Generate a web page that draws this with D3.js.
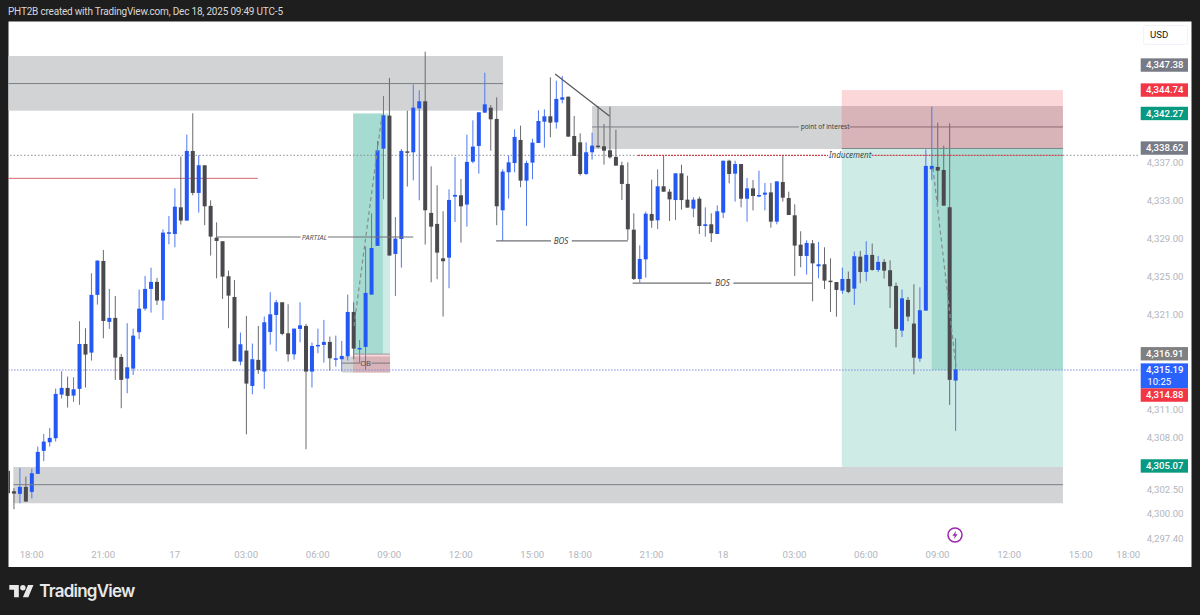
<!DOCTYPE html>
<html>
<head>
<meta charset="utf-8">
<script src="https://d3js.org/d3.v7.min.js"></script>
<style>
  html, body { margin: 0; padding: 0; background: #1e1e1e; }
  svg { display: block; font-family: Roboto, Arial, sans-serif; }
</style>
</head>
<body>
<svg id="chart" width="1200" height="615"></svg>
<script>
// 15 minute candles
var opens = [
  4304.48,4302.33,4302.05,4302.79,4302.26,4304.16,4306.59,4307.50,4307.92,4312.53,
  4313.23,4312.42,4313.13,4317.87,4316.96,4323.05,4326.63,4320.20,4320.62,4316.50,
  4314.22,4315.27,4319.11,4321.60,4323.68,4324.42,4322.45,4329.55,4329.48,4332.29,
  4330.89,4338.24,4333.81,4336.73,4332.44,4329.09,4328.71,4325.02,4322.83,4316.01,
  4317.17,4313.44,4316.19,4314.96,4319.14,4320.93,4322.27,4319.00,4316.78,4319.46,
  4319.77,4314.96,4317.63,4317.77,4318.09,4316.26,4316.26,4316.57,4321.25,4317.35,
  4317.56,4323.08,4328.22,4338.48,4341.97,4327.37,4328.95,4338.20,4338.10,4342.74,
  4343.48,4331.70,4330.54,4326.91,4326.98,4333.42,4333.56,4332.58,4337.11,4338.77,
  4342.28,4342.81,4341.62,4331.98,4335.99,4336.97,4339.40,4335.11,4337.01,4339.08,
  4341.33,4341.90,4341.26,4343.65,4343.97,4339.82,4339.15,4335.81,4338.10,4338.80,
  4338.73,4338.31,4337.61,4336.73,4334.76,4329.93,4324.73,4326.80,4331.59,4330.92,
  4334.51,4333.94,4333.06,4335.88,4333.10,4332.15,4333.20,4330.32,4330.50,4329.48,
  4331.73,4337.21,4335.84,4336.86,4333.20,4334.29,4333.49,4333.63,4333.87,4330.78,
  4334.96,4333.27,4331.45,4328.35,4327.16,4328.49,4326.07,4326.28,4324.55,4324.41,
  4323.50,4324.73,4323.71,4327.09,4325.47,4327.27,4325.68,4326.53,4325.65,4324.00,
  4319.28,4322.52,4320.02,4316.33,4321.39,4336.30,4336.55,4336.23,4332.30,4314.01
];
var highs = [
  4304.48,4302.65,4304.79,4303.88,4304.72,4307.04,4308.38,4309.01,4313.16,4314.99,
  4314.43,4314.36,4320.27,4319.53,4325.33,4326.67,4327.79,4323.68,4322.94,4316.82,
  4320.06,4319.49,4323.61,4325.05,4325.93,4324.84,4329.97,4331.38,4334.30,4337.64,
  4339.96,4342.21,4337.78,4336.73,4333.03,4330.71,4328.71,4325.61,4324.63,4319.07,
  4320.83,4317.91,4319.77,4320.76,4323.33,4322.52,4322.27,4322.06,4319.49,4322.27,
  4319.99,4318.02,4319.49,4320.41,4318.65,4318.75,4318.19,4323.08,4322.27,4318.30,
  4328.14,4331.66,4339.29,4344.04,4345.94,4331.27,4338.45,4342.49,4345.27,4344.64,
  4348.72,4336.62,4334.62,4331.87,4334.19,4337.61,4335.28,4339.96,4341.47,4342.32,
  4346.50,4343.09,4343.90,4336.30,4337.75,4340.52,4340.91,4337.22,4339.54,4342.53,
  4342.63,4346.01,4345.66,4346.15,4343.97,4341.93,4340.10,4339.15,4340.17,4342.99,
  4341.09,4342.92,4340.49,4337.11,4337.04,4331.66,4328.28,4331.83,4335.21,4336.30,
  4337.74,4334.22,4335.88,4336.79,4335.63,4333.35,4333.42,4332.29,4331.66,4332.50,
  4337.21,4337.32,4337.21,4336.86,4335.39,4335.17,4336.16,4334.86,4334.86,4335.03,
  4337.74,4333.94,4332.61,4329.76,4328.81,4328.84,4328.63,4328.07,4326.91,4324.41,
  4325.93,4325.51,4327.62,4327.69,4328.71,4328.46,4327.16,4326.84,4326.70,4324.35,
  4323.61,4322.83,4324.17,4323.85,4338.41,4342.92,4341.23,4338.80,4341.16,4318.47
];
var lows = [
  4302.12,4300.43,4301.06,4301.24,4301.56,4304.16,4305.50,4307.04,4307.57,4312.11,
  4311.16,4311.76,4311.44,4313.27,4316.12,4322.03,4318.47,4319.46,4314.08,4311.09,
  4312.67,4314.60,4318.37,4321.39,4321.18,4321.99,4320.41,4328.39,4328.07,4330.47,
  4330.89,4333.56,4331.73,4330.40,4327.20,4324.80,4322.62,4319.53,4316.05,4315.62,
  4308.34,4312.56,4314.71,4313.13,4317.80,4317.10,4318.79,4316.01,4316.22,4318.05,
  4306.76,4313.27,4316.89,4315.91,4315.06,4315.48,4314.96,4316.12,4316.26,4315.84,
  4315.13,4323.08,4328.22,4333.14,4327.20,4322.94,4325.93,4334.48,4335.14,4333.03,
  4328.36,4324.38,4324.70,4320.76,4323.75,4330.75,4328.57,4330.25,4336.94,4335.85,
  4342.28,4338.27,4330.40,4328.74,4333.21,4335.99,4334.41,4330.33,4335.25,4339.08,
  4338.59,4339.68,4340.59,4343.27,4339.75,4337.71,4335.64,4335.71,4337.32,4338.52,
  4336.80,4337.43,4336.69,4333.07,4328.85,4324.62,4324.34,4324.87,4330.14,4330.00,
  4333.94,4330.85,4330.95,4332.04,4332.26,4331.24,4329.48,4329.20,4328.63,4329.48,
  4331.16,4334.82,4332.89,4332.29,4330.78,4331.97,4333.35,4331.97,4330.14,4330.50,
  4332.89,4331.48,4325.05,4325.96,4325.19,4322.37,4324.80,4323.67,4321.25,4320.75,
  4323.15,4323.22,4321.99,4324.28,4324.49,4325.61,4325.47,4324.77,4321.67,4317.52,
  4318.61,4320.27,4314.67,4315.98,4321.39,4335.18,4332.79,4332.47,4311.44,4308.70
];
var closes = [
  4302.12,4302.08,4302.79,4301.24,4304.23,4306.48,4307.57,4307.96,4312.60,4313.23,
  4312.39,4313.09,4317.87,4316.75,4323.05,4326.67,4320.30,4320.62,4316.43,4314.08,
  4315.41,4318.75,4321.60,4323.68,4324.42,4322.45,4329.62,4329.66,4332.36,4330.89,
  4338.24,4333.81,4336.73,4332.40,4329.20,4328.74,4324.98,4322.97,4316.05,4317.84,
  4313.69,4316.26,4315.13,4320.16,4321.00,4322.27,4318.93,4316.78,4319.49,4319.84,
  4314.96,4317.66,4317.77,4318.09,4316.36,4316.36,4316.61,4321.25,4317.38,4317.45,
  4323.26,4328.00,4338.31,4342.00,4327.20,4328.99,4338.24,4338.10,4342.81,4343.48,
  4331.98,4330.25,4327.51,4326.60,4333.07,4333.60,4332.40,4337.08,4338.70,4342.32,
  4343.16,4341.58,4332.40,4336.06,4337.04,4339.72,4335.11,4336.97,4339.12,4341.40,
  4341.90,4341.23,4343.73,4343.90,4339.75,4337.71,4335.81,4338.10,4338.80,4338.73,
  4338.27,4337.57,4336.69,4334.76,4329.97,4324.73,4326.84,4331.62,4330.88,4334.51,
  4333.94,4333.13,4335.88,4333.06,4332.26,4333.10,4330.32,4330.50,4329.55,4331.87,
  4337.21,4335.81,4336.86,4333.20,4334.29,4333.49,4333.59,4333.84,4330.78,4335.03,
  4333.31,4331.48,4328.25,4327.16,4328.53,4326.38,4326.28,4324.55,4324.41,4323.57,
  4324.73,4323.36,4327.13,4325.47,4327.27,4325.68,4326.53,4325.61,4323.96,4319.46,
  4322.69,4320.76,4316.43,4321.43,4336.66,4336.66,4336.16,4332.47,4314.08,4315.19
];

var priceTicks = [4337, 4333, 4329, 4325, 4321, 4311, 4308, 4302.5, 4300, 4297.4];
var timeTickBars = [4, 16, 28, 40, 52, 64, 76, 88, 96, 108, 120, 132, 144, 156, 168, 180, 188];
var timeTickLabels = ["18:00", "21:00", "17", "03:00", "06:00", "09:00", "12:00", "15:00", "18:00",
  "21:00", "18", "03:00", "06:00", "09:00", "12:00", "15:00", "18:00"];

var axisLabelPrices = [4347.38, 4344.74, 4342.27, 4338.62, 4316.91, 4315.19, 4314.88, 4305.07];
var axisLabelColors = ["#787b86", "#f23645", "#089981", "#787b86", "#808080", "#2962ff", "#f23645", "#089981"];

// drawings, as [first bar, last bar, upper price, lower price]
var grayZones = [
  [-2, 83.05, 4348.26, 4342.49],
  [98, 177, 4342.98, 4338.45],
  [0.9, 177, 4304.89, 4301.06],
  [56.1, 64.1, 4316.55, 4314.85]
];
var redZones = [
  [139.9, 177, 4344.66, 4338.5],
  [57.9, 64.1, 4316.8, 4314.85]
];
var greenZones = [
  [139.9, 177, 4338.5, 4304.89],
  [155, 177, 4338.5, 4315.12],
  [57.9, 64.1, 4342.2, 4316.8],
  [57.9, 62.9, 4342.2, 4316.8]
];

var W = 1200, H = 615;
var svg = d3.select("#chart");

svg.append("rect").attr("width", W).attr("height", H).attr("fill", "#1e1e1e");
svg.append("rect").attr("x", 8.5).attr("y", 21.5).attr("width", 1183).attr("height", 545.5).attr("fill", "#fff");

var x = d3.scaleLinear().domain([0, 159]).range([8, 955.64]);
var y = d3.scaleLinear().domain([4300, 4337]).range([513.3, 162.7]);

svg.append("clipPath").attr("id", "plot").append("rect")
  .attr("x", 8.5).attr("y", 21.5).attr("width", 1131).attr("height", 545.5);
var plot = svg.append("g").attr("clip-path", "url(#plot)");

function zone(list, fill) {
  plot.selectAll(null).data(list).enter().append("rect")
    .attr("x", function(d) { return x(d[0]); })
    .attr("y", function(d) { return y(d[2]); })
    .attr("width", function(d) { return x(d[1]) - x(d[0]); })
    .attr("height", function(d) { return y(d[3]) - y(d[2]); })
    .attr("fill", fill);
}
zone(grayZones, "#d2d3d5");
zone(greenZones, "rgba(8,153,129,0.2)");
zone(redZones, "rgba(242,54,69,0.2)");

// plain line drawn in bar / price space
function seg(b0, p0, b1, p1, color, width, dash) {
  return plot.append("line")
    .attr("x1", x(b0)).attr("y1", y(p0))
    .attr("x2", x(b1)).attr("y2", y(p1))
    .attr("stroke", color).attr("stroke-width", width)
    .attr("stroke-dasharray", dash || null);
}

// horizontal dotted price lines
seg(-2, 4337.78, 105.7, 4337.78, "#8a8d96", 1, "1.5 2");
seg(177, 4337.78, 190, 4337.78, "#8a8d96", 1, "1.5 2");
seg(-2, 4315.12, 190, 4315.12, "#7f8be0", 1, "1.5 1.5");
seg(-2, 4335.35, 41.9, 4335.35, "#d9646c", 1);

// candles
var bars = d3.range(opens.length);
var upColor = "#2458f5", downColor = "#4a4a4e";
var upWick = "#4f78ee", downWick = "#6a6a6e";
function isUp(i) { return closes[i] >= opens[i]; }

plot.selectAll("line.wick").data(bars).enter().append("line")
  .attr("class", "wick")
  .attr("x1", function(i) { return x(i); })
  .attr("x2", function(i) { return x(i); })
  .attr("y1", function(i) { return y(highs[i]); })
  .attr("y2", function(i) { return y(lows[i]); })
  .attr("stroke", function(i) { return isUp(i) ? upWick : downWick; })
  .attr("stroke-width", 1);

plot.selectAll("rect.body").data(bars).enter().append("rect")
  .attr("class", "body")
  .attr("x", function(i) { return x(i) - 2; })
  .attr("width", 4)
  .attr("y", function(i) { return y(Math.max(opens[i], closes[i])); })
  .attr("height", function(i) { return Math.max(1.5, Math.abs(y(opens[i]) - y(closes[i]))); })
  .attr("fill", function(i) { return isUp(i) ? upColor : downColor; });

// zone mid lines
var lineGray = "#7c7e84";
seg(-2, 4345.35, 83.05, 4345.35, lineGray, 1);
seg(0.9, 4303.02, 177, 4303.02, lineGray, 1);
seg(98, 4340.77, 132.7, 4340.77, lineGray, 1);
seg(141.2, 4340.77, 177, 4340.77, "#8b6a70", 1);
seg(139.9, 4338.5, 177, 4338.5, "#7c8a8a", 1);
seg(57.9, 4316.8, 64.1, 4316.8, "#9a9a9c", 1);

// inducement
seg(105.7, 4337.78, 137.6, 4337.78, "#c8404c", 1.2, "2 1");
seg(144.9, 4337.78, 177, 4337.78, "#c8404c", 1.2, "2 1");

// partial, BOS and OB lines, each broken around its text
seg(34.9, 4329.16, 49.1, 4329.16, "#6f7074", 1.2);
seg(53.7, 4329.16, 68, 4329.16, "#6f7074", 1.2);
seg(81.9, 4328.74, 91.1, 4328.74, "#6f7074", 1.2);
seg(94.6, 4328.74, 104, 4328.74, "#6f7074", 1.2);
seg(104.8, 4324.3, 118, 4324.3, "#6f7074", 1.2);
seg(121.7, 4324.3, 134.9, 4324.3, "#6f7074", 1.2);
seg(56, 4315.85, 59, 4315.85, "#77787c", 1);
seg(61, 4315.85, 64.1, 4315.85, "#77787c", 1);

// trend line and the dashed paths of both positions
seg(91.8, 4346.36, 100.9, 4341.93, "#55565a", 1.2);
seg(58.05, 4319.77, 62.75, 4342.03, "#7f8f8c", 1.2, "4 3");
seg(155.2, 4336.44, 159.06, 4315.44, "#7f8f8c", 1.2, "4 3");

function note(str, bar, price, size, italic, color) {
  plot.append("text")
    .attr("x", x(bar)).attr("y", y(price)).attr("dy", "0.35em")
    .attr("text-anchor", "middle")
    .attr("font-family", "'Noto Sans', Arial, sans-serif")
    .attr("font-size", size)
    .attr("font-style", italic ? "italic" : "normal")
    .attr("fill", color)
    .text(str);
}
note("PARTIAL", 51.4, 4329.16, 7.2, true, "#55565a");
note("BOS", 92.8, 4328.74, 8, true, "#3d3e42");
note("BOS", 119.9, 4324.3, 8, true, "#3d3e42");
note("OB", 60, 4315.85, 7.5, false, "#4b4b50");
note("point of interest", 137.1, 4340.77, 6.5, false, "#3d3e42");
note("Inducement", 141.3, 4337.78, 8, true, "#3d4a4a");

// axes
var priceAxis = d3.axisRight(y)
  .tickValues(priceTicks)
  .tickFormat(d3.format(",.2f"))
  .tickSize(0)
  .tickPadding(0);
var priceG = svg.append("g").attr("transform", "translate(1183.5,0)").call(priceAxis);
priceG.select(".domain").remove();
priceG.selectAll("text")
  .attr("text-anchor", "end")
  .attr("font-size", 9.6)
  .attr("font-family", "Roboto, Arial, sans-serif")
  .attr("fill", "#b2b5be");

var timeAxis = d3.axisBottom(x)
  .tickValues(timeTickBars)
  .tickFormat(function(d, i) { return timeTickLabels[i]; })
  .tickSize(0)
  .tickPadding(0);
var timeG = svg.append("g").attr("transform", "translate(-0.7,551)").call(timeAxis);
timeG.select(".domain").remove();
timeG.selectAll("text")
  .attr("font-size", 9.6)
  .attr("font-family", "Roboto, Arial, sans-serif")
  .attr("fill", "#b2b5be");

// price labels on the axis, pushed down when they would overlap
var lastBottom = -100;
axisLabelPrices.forEach(function(p, k) {
  var isCurrent = p === closes[closes.length - 1];
  var h = isCurrent ? 25 : 13.4;
  var top = y(p) - 6;
  if (top < lastBottom) top = lastBottom;
  lastBottom = top + h;
  svg.append("rect").attr("x", 1140.7).attr("y", top).attr("width", 47.3).attr("height", h)
    .attr("fill", axisLabelColors[k]);
  svg.append("text").attr("x", 1183.5).attr("y", top + 6.5).attr("dy", "0.35em")
    .attr("text-anchor", "end").attr("font-size", 9.6).attr("font-weight", 500).attr("fill", "#fff")
    .text(d3.format(",.2f")(p));
  if (isCurrent) {
    svg.append("text").attr("x", 1147.3).attr("y", top + 18.4).attr("dy", "0.35em")
      .attr("font-size", 9.6).attr("fill", "#fff").text("10:25");
  }
});

// currency button
svg.append("rect").attr("x", 1143.5).attr("y", 25.5).attr("width", 44).attr("height", 19).attr("rx", 2)
  .attr("fill", "#fff").attr("stroke", "#f0f3fa");
svg.append("text").attr("x", 1150).attr("y", 35).attr("dy", "0.35em")
  .attr("font-size", 9.6).attr("fill", "#131722").text("USD");

// lightning marker
var bolt = svg.append("g").attr("transform", "translate(955,535)");
bolt.append("circle").attr("r", 7).attr("fill", "#fff").attr("stroke", "#9c27b0").attr("stroke-width", 1.5);
bolt.append("path").attr("d", "M1.2 -4.2L-2.6 0.8H-0.3L-1.2 4.2L2.6 -0.8H0.3Z").attr("fill", "#9c27b0");

// header and footer
svg.append("text").attr("x", 8).attr("y", 11.5).attr("dy", "0.35em")
  .attr("font-size", 10).attr("fill", "#d8d8d8")
  .attr("textLength", 275)
  .text("PHT2B created with TradingView.com, Dec 18, 2025 09:49 UTC-5");

var logo = svg.append("g").attr("transform", "translate(9.3,582.3) scale(0.68)").attr("fill", "#e8e8e8");
logo.append("path").attr("d", "M14 22H7V11H0V4h14v18zM28 22h-8l7.5-18h8L28 22z");
logo.append("circle").attr("cx", 20).attr("cy", 8).attr("r", 4);
svg.append("text").attr("x", 39.3).attr("y", 597.3)
  .attr("font-family", "Inter, 'Noto Sans', sans-serif")
  .attr("font-size", 17).attr("font-weight", 600).attr("fill", "#e8e8e8")
  .attr("textLength", 96)
  .text("TradingView");
</script>
</body>
</html>
